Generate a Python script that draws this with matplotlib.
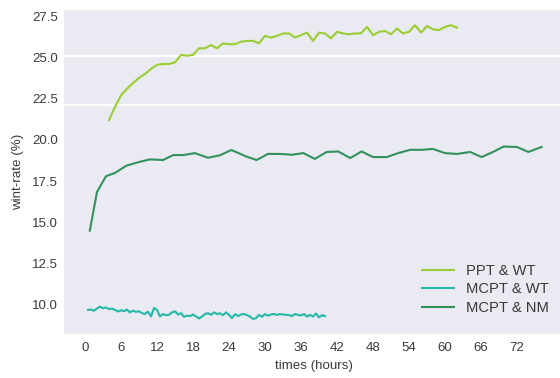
import matplotlib
matplotlib.use("Agg")
import matplotlib.pyplot as plt

# PPT & WT, hourly
ppt_wt_hours = list(range(4, 63))
ppt_wt_rate = [21.2, 22.0, 22.7, 23.1, 23.45, 23.75, 24.0, 24.3, 24.55, 24.6,
               24.6, 24.7, 25.15, 25.1, 25.15, 25.55, 25.55, 25.75, 25.55, 25.85,
               25.8, 25.8, 25.95, 26.0, 26.0, 25.85, 26.3, 26.2, 26.3, 26.45,
               26.45, 26.2, 26.35, 26.5, 26.0, 26.5, 26.45, 26.15, 26.55, 26.45,
               26.4, 26.45, 26.45, 26.85, 26.35, 26.55, 26.6, 26.4, 26.75, 26.45,
               26.55, 26.95, 26.5, 26.9, 26.7, 26.65, 26.85, 26.95, 26.8]

# MCPT & WT, every half hour
mcpt_wt_hours = [0.5 * i for i in range(1, 81)]
mcpt_wt_rate = [9.70, 9.72, 9.65, 9.78, 9.90, 9.80, 9.85, 9.75, 9.78, 9.70,
                9.60, 9.68, 9.62, 9.72, 9.55, 9.66, 9.58, 9.62, 9.50, 9.45,
                9.60, 9.30, 9.82, 9.70, 9.30, 9.45, 9.38, 9.40, 9.55, 9.62,
                9.42, 9.50, 9.28, 9.35, 9.33, 9.42, 9.30, 9.18, 9.30, 9.45,
                9.50, 9.40, 9.55, 9.45, 9.50, 9.38, 9.55, 9.40, 9.20, 9.45,
                9.32, 9.42, 9.45, 9.38, 9.30, 9.15, 9.20, 9.40, 9.28, 9.45,
                9.35, 9.42, 9.45, 9.40, 9.45, 9.42, 9.40, 9.38, 9.33, 9.45,
                9.40, 9.36, 9.45, 9.30, 9.40, 9.30, 9.48, 9.25, 9.38, 9.32]

# MCPT & NM
mcpt_nm_hours = [0.8, 2.0, 3.5, 5.0, 6.9, 9.2, 10.8, 13.0, 14.7, 16.4,
                 18.3, 20.5, 22.5, 24.4, 26.7, 28.6, 30.5, 32.5, 34.5, 36.4,
                 38.3, 40.3, 42.2, 44.2, 46.1, 48.0, 50.3, 52.2, 54.2, 56.1,
                 58.0, 60.0, 62.0, 64.2, 66.1, 68.0, 69.8, 72.0, 73.9, 76.1]
mcpt_nm_rate = [14.5, 16.85, 17.8, 18.0, 18.44, 18.68, 18.82, 18.78, 19.08, 19.08,
                19.2, 18.92, 19.07, 19.39, 19.02, 18.78, 19.15, 19.15, 19.1, 19.2,
                18.85, 19.27, 19.3, 18.9, 19.3, 18.96, 18.96, 19.2, 19.4, 19.4,
                19.45, 19.2, 19.15, 19.27, 18.96, 19.27, 19.6, 19.57, 19.27, 19.57]

xticks = list(range(0, 73, 6))
yticks = [10.0, 12.5, 15.0, 17.5, 20.0, 22.5, 25.0, 27.5]

plt.rcParams['font.family'] = ['Liberation Sans', 'DejaVu Sans']
text_color = '#3a3a3a'

fig = plt.figure(figsize=(5.6, 3.78), dpi=100)
ax = fig.add_axes([0.1143, 0.1164, 0.8946, 0.8571])
ax.set_facecolor('#EAEAF2')
for s in ax.spines.values():
    s.set_visible(False)

# stray white rules visible in the original
ax.axhline(25.11, color='white', lw=1.7, zorder=1)
ax.axhline(22.11, color='white', lw=1.4, zorder=1)

ax.plot(ppt_wt_hours, ppt_wt_rate, color='#9acd32', lw=1.5, label='PPT & WT', zorder=3)
ax.plot(mcpt_wt_hours, mcpt_wt_rate, color='#26b8a8', lw=1.5, label='MCPT & WT', zorder=3)
ax.plot(mcpt_nm_hours, mcpt_nm_rate, color='#33915c', lw=1.5, label='MCPT & NM', zorder=3)

ax.set_xlim(-3.5, 80)
ax.set_ylim(8.24, 27.87)
ax.set_xticks(xticks)
ax.set_yticks(yticks)
ax.tick_params(axis='both', length=0, labelsize=9.5, colors=text_color)
ax.tick_params(axis='x', pad=6)
ax.tick_params(axis='y', pad=4.5)

ax.set_xlabel('times (hours)', fontsize=9.6, color=text_color, labelpad=4)
ax.set_ylabel('wint-rate (%)', fontsize=9.6, color=text_color, labelpad=6)

leg = ax.legend(loc='lower right', bbox_to_anchor=(1.004, 0.132),
                bbox_transform=fig.transFigure, frameon=False, fontsize=10.6,
                handlelength=2.2, labelspacing=0.3)
for t in leg.get_texts():
    t.set_color(text_color)

fig.savefig('out.png', dpi=100)
